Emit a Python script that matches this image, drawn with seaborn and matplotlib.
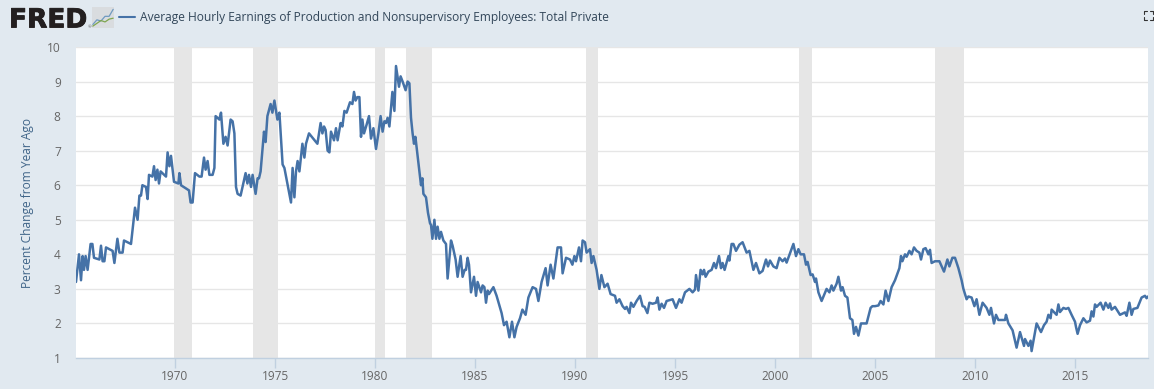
import numpy as np
import pandas as pd
import seaborn as sns
import matplotlib.pyplot as plt
import matplotlib.patheffects as pe

# values: year (decimal) and percent change from year ago
years_60s = [1965.05, 1965.2, 1965.3, 1965.38, 1965.45, 1965.53, 1965.63, 1965.78, 1965.87, 1965.95, 1966.22, 1966.3, 1966.38, 1966.47, 1966.55, 1966.88, 1966.97, 1967.12, 1967.22, 1967.38, 1967.45, 1967.8, 1968.0, 1968.13, 1968.22, 1968.3, 1968.37, 1968.55, 1968.63, 1968.7, 1968.87, 1968.95, 1969.03, 1969.12, 1969.2, 1969.28, 1969.55, 1969.63, 1969.72, 1969.8, 1969.95]
pct_60s = [3.2, 4.0, 3.25, 3.95, 3.55, 3.95, 3.55, 4.3, 4.3, 3.9, 3.85, 4.25, 3.8, 3.8, 4.2, 4.1, 3.75, 4.45, 4.05, 4.05, 4.4, 4.3, 5.35, 5.0, 5.7, 5.7, 6.0, 5.95, 5.6, 6.3, 6.25, 6.55, 6.15, 6.45, 6.05, 6.4, 6.25, 6.95, 6.55, 6.85, 6.1]

years_70s = [1970.17, 1970.22, 1970.3, 1970.7, 1970.78, 1970.88, 1971.0, 1971.22, 1971.33, 1971.45, 1971.53, 1971.63, 1971.72, 1971.88, 1971.97, 1972.03, 1972.22, 1972.3, 1972.42, 1972.53, 1972.63, 1972.78, 1972.88, 1972.97, 1973.05, 1973.13, 1973.28, 1973.53, 1973.62, 1973.7, 1973.8, 1973.88, 1974.03, 1974.13, 1974.2, 1974.28, 1974.45, 1974.53, 1974.62, 1974.78, 1974.87, 1974.97, 1975.12, 1975.22, 1975.38, 1975.47, 1975.62, 1975.8, 1975.88, 1975.97, 1976.05, 1976.13, 1976.22, 1976.37, 1976.47, 1976.55, 1976.7, 1977.12, 1977.28, 1977.37, 1977.45, 1977.53, 1977.63, 1977.72, 1977.8, 1977.95, 1978.05, 1978.13, 1978.28, 1978.37, 1978.47, 1978.58, 1978.75, 1978.87, 1978.95, 1979.03, 1979.12, 1979.22, 1979.3, 1979.37, 1979.45, 1979.58, 1979.7, 1979.8, 1979.92]
pct_70s = [6.05, 6.35, 6.0, 5.85, 5.5, 5.5, 6.35, 6.25, 6.25, 6.8, 6.45, 6.7, 6.3, 6.3, 6.5, 8.0, 7.9, 8.1, 7.2, 7.4, 7.15, 7.9, 7.85, 7.5, 5.95, 5.75, 5.7, 6.35, 6.05, 6.3, 5.95, 6.3, 5.75, 6.2, 6.2, 6.4, 7.55, 7.25, 8.0, 8.35, 8.1, 8.45, 7.9, 8.1, 6.6, 6.5, 6.05, 5.5, 6.5, 5.65, 6.4, 6.7, 6.4, 7.2, 6.8, 7.2, 7.5, 7.2, 7.8, 7.5, 7.7, 7.6, 7.0, 6.95, 7.55, 7.3, 7.65, 7.3, 7.8, 7.7, 8.15, 8.1, 8.4, 8.35, 8.7, 8.45, 8.55, 8.55, 7.4, 7.9, 7.5, 7.75, 8.0, 7.35, 7.65]

years_80s = [1980.05, 1980.17, 1980.28, 1980.38, 1980.47, 1980.55, 1980.63, 1980.72, 1980.87, 1980.97, 1981.05, 1981.2, 1981.28, 1981.38, 1981.53, 1981.63, 1981.72, 1981.8, 1981.88, 1981.95, 1982.02, 1982.08, 1982.22, 1982.3, 1982.37, 1982.42, 1982.55, 1982.65, 1982.75, 1982.8, 1982.87, 1982.97, 1983.05, 1983.13, 1983.22, 1983.3, 1983.42, 1983.55, 1983.63, 1983.8, 1983.88, 1984.03, 1984.13, 1984.28, 1984.38, 1984.48, 1984.55, 1984.63, 1984.7, 1984.8, 1984.95, 1985.05, 1985.13, 1985.3, 1985.38, 1985.47, 1985.55, 1985.63, 1985.7, 1985.92, 1986.08, 1986.33, 1986.45, 1986.58, 1986.72, 1986.85, 1986.97, 1987.08, 1987.25, 1987.37, 1987.53, 1987.67, 1987.88, 1988.05, 1988.17, 1988.33, 1988.53, 1988.63, 1988.78, 1988.92, 1989.13, 1989.3, 1989.38, 1989.55, 1989.75, 1989.87, 1989.97]
pct_80s = [7.05, 7.5, 8.0, 7.55, 7.85, 7.8, 7.95, 7.7, 8.7, 8.15, 9.45, 8.85, 9.15, 9.0, 8.75, 9.0, 8.95, 7.95, 7.5, 7.2, 7.4, 7.1, 6.4, 6.0, 6.2, 5.75, 5.65, 5.2, 4.9, 4.85, 4.45, 5.0, 4.45, 4.8, 4.45, 4.65, 4.4, 4.3, 3.3, 4.4, 4.25, 3.85, 3.35, 3.95, 3.35, 3.55, 3.55, 3.9, 3.7, 2.9, 3.35, 2.8, 3.2, 2.9, 3.1, 3.05, 2.6, 2.95, 2.85, 3.05, 2.8, 2.3, 1.95, 2.05, 1.6, 2.05, 1.6, 1.9, 2.15, 2.4, 2.25, 2.75, 3.05, 3.0, 2.65, 3.2, 3.6, 3.1, 3.7, 3.3, 4.2, 4.2, 3.45, 3.9, 3.85, 3.7, 3.95]

years_90s = [1990.05, 1990.2, 1990.3, 1990.38, 1990.5, 1990.58, 1990.75, 1990.83, 1990.92, 1991.08, 1991.22, 1991.32, 1991.47, 1991.63, 1991.78, 1992.0, 1992.08, 1992.22, 1992.38, 1992.5, 1992.58, 1992.72, 1992.8, 1992.92, 1993.08, 1993.25, 1993.38, 1993.48, 1993.62, 1993.72, 1993.88, 1994.05, 1994.13, 1994.22, 1994.33, 1994.45, 1994.58, 1994.88, 1995.05, 1995.22, 1995.33, 1995.5, 1995.72, 1995.88, 1996.0, 1996.05, 1996.17, 1996.28, 1996.38, 1996.45, 1996.53, 1996.67, 1996.83, 1996.95, 1997.05, 1997.2, 1997.3, 1997.38, 1997.48, 1997.67, 1997.72, 1997.83, 1997.92, 1998.05, 1998.22, 1998.38, 1998.58, 1998.72, 1998.92, 1999.05, 1999.22, 1999.38, 1999.55, 1999.65, 1999.75, 1999.92]
pct_90s = [3.8, 4.2, 3.8, 4.4, 4.35, 4.05, 4.15, 3.75, 3.95, 3.55, 3.0, 3.4, 3.05, 3.15, 2.85, 2.8, 2.6, 2.7, 2.5, 2.42, 2.48, 2.3, 2.6, 2.48, 2.65, 2.8, 2.5, 2.48, 2.3, 2.6, 2.57, 2.6, 2.75, 2.4, 2.57, 2.45, 2.65, 2.7, 2.45, 2.7, 2.6, 2.9, 3.0, 2.9, 2.98, 3.4, 2.95, 3.55, 3.42, 3.55, 3.35, 3.5, 3.55, 3.75, 3.6, 3.95, 3.6, 3.75, 3.55, 3.95, 3.82, 4.3, 4.3, 4.1, 4.28, 4.35, 4.05, 4.1, 3.55, 3.75, 3.45, 3.52, 3.85, 3.65, 3.82, 3.65]

years_00s = [2000.08, 2000.22, 2000.38, 2000.5, 2000.58, 2000.7, 2000.92, 2001.05, 2001.17, 2001.28, 2001.45, 2001.55, 2001.63, 2001.78, 2001.88, 2002.0, 2002.05, 2002.17, 2002.33, 2002.58, 2002.72, 2002.83, 2002.92, 2003.08, 2003.17, 2003.3, 2003.38, 2003.5, 2003.62, 2003.75, 2003.87, 2003.95, 2004.05, 2004.17, 2004.3, 2004.58, 2004.78, 2004.87, 2005.0, 2005.17, 2005.28, 2005.42, 2005.53, 2005.67, 2005.83, 2006.0, 2006.22, 2006.3, 2006.37, 2006.5, 2006.58, 2006.72, 2006.83, 2006.95, 2007.08, 2007.22, 2007.3, 2007.42, 2007.53, 2007.67, 2007.75, 2007.83, 2008.0, 2008.22, 2008.45, 2008.62, 2008.72, 2008.87, 2009.0, 2009.17, 2009.33, 2009.42, 2009.58, 2009.67, 2009.83, 2009.97]
pct_00s = [3.6, 3.9, 3.8, 3.88, 3.76, 3.95, 4.3, 3.95, 4.15, 4.0, 4.0, 3.7, 3.78, 3.4, 3.42, 3.2, 3.3, 2.9, 2.65, 3.0, 2.9, 3.1, 2.95, 3.15, 3.35, 2.95, 3.05, 2.8, 2.75, 2.15, 2.1, 1.7, 1.9, 1.65, 2.0, 2.0, 2.45, 2.5, 2.5, 2.52, 2.65, 2.55, 2.95, 2.65, 3.05, 3.25, 3.6, 3.95, 3.8, 4.0, 3.93, 4.1, 4.0, 4.2, 4.1, 4.05, 3.85, 4.15, 4.18, 4.0, 4.13, 3.75, 3.8, 3.8, 3.5, 3.85, 3.65, 3.9, 3.9, 3.6, 3.25, 3.0, 2.7, 2.78, 2.75, 2.5]

years_10s = [2010.08, 2010.22, 2010.38, 2010.58, 2010.72, 2010.8, 2010.95, 2011.05, 2011.17, 2011.5, 2011.55, 2011.67, 2011.88, 2012.08, 2012.25, 2012.45, 2012.5, 2012.67, 2012.78, 2012.83, 2013.08, 2013.3, 2013.45, 2013.58, 2013.67, 2013.78, 2013.83, 2014.08, 2014.17, 2014.25, 2014.42, 2014.55, 2014.67, 2014.83, 2015.0, 2015.05, 2015.13, 2015.25, 2015.42, 2015.58, 2015.75, 2015.83, 2015.92, 2016.0, 2016.08, 2016.28, 2016.42, 2016.53, 2016.67, 2016.75, 2016.83, 2017.0, 2017.25, 2017.5, 2017.58, 2017.72, 2017.83, 2017.92, 2018.12, 2018.33, 2018.5, 2018.58, 2018.65]
pct_10s = [2.7, 2.25, 2.6, 2.45, 2.25, 2.45, 2.0, 2.25, 2.1, 2.1, 2.25, 2.0, 1.8, 1.3, 1.75, 1.35, 1.55, 1.35, 1.5, 1.2, 2.0, 1.75, 1.95, 2.05, 2.25, 2.15, 2.4, 2.25, 2.55, 2.33, 2.45, 2.42, 2.45, 2.25, 2.05, 1.9, 1.7, 1.95, 2.15, 2.03, 2.08, 2.35, 2.2, 2.55, 2.48, 2.6, 2.4, 2.6, 2.45, 2.58, 2.4, 2.48, 2.25, 2.32, 2.22, 2.6, 2.25, 2.42, 2.45, 2.75, 2.8, 2.73, 2.78]

recession_start = [1969.95, 1973.9, 1980.0, 1981.55, 1990.55, 2001.2, 2008.0]
recession_end = [1970.87, 1975.17, 1980.5, 1982.87, 1991.17, 2001.87, 2009.47]

x_ticks = [1970, 1975, 1980, 1985, 1990, 1995, 2000, 2005, 2010, 2015]
y_ticks = [1, 2, 3, 4, 5, 6, 7, 8, 9, 10]

title = "Average Hourly Earnings of Production and Nonsupervisory Employees: Total Private"
y_label = "Percent Change from Year Ago"

# little chart on the FRED logo
icon_blue = [1.5, 3.5, 3, 5, 5, 8]
icon_green = [0.8, 2, 3.2, 2.6, 3.8, 4.2]

df = pd.DataFrame({
    "year": years_60s + years_70s + years_80s + years_90s + years_00s + years_10s,
    "pct": pct_60s + pct_70s + pct_80s + pct_90s + pct_00s + pct_10s,
})

BG = "#e1e9f0"
W, H = 1154, 389

sns.set_theme(style="white")
plt.rcParams["font.family"] = ["Open Sans", "DejaVu Sans"]

fig = plt.figure(figsize=(W / 100, H / 100), dpi=100, facecolor=BG)
ax = fig.add_axes([76 / W, (H - 358) / H, 1072 / W, 311 / H])

for start, end in zip(recession_start, recession_end):
    ax.axvspan(start, end, color="#e6e6e6", lw=0, zorder=1)

sns.lineplot(data=df, x="year", y="pct", estimator=None, sort=False, color="#4572a7", lw=1.8, ax=ax, zorder=3)

ax.set_xlim(1965.05, 2018.65)
ax.set_ylim(1, 10)
ax.set_xticks(x_ticks)
ax.set_yticks(y_ticks)
ax.grid(axis="y", color="#e6e6e6", lw=1)
ax.set_axisbelow(True)
ax.set_xlabel("")
ax.set_ylabel(y_label, fontsize=8.6, color="#3f6488", labelpad=9)
ax.tick_params(axis="x", length=7, width=1, color="#c0d0e0", labelsize=8.6, labelcolor="#666666", pad=2, bottom=True)
ax.tick_params(axis="y", length=0, labelsize=8.6, labelcolor="#666666", pad=11)
for side in ["top", "left", "right"]:
    ax.spines[side].set_visible(False)
ax.spines["bottom"].set_color("#c0d0e0")
ax.spines["bottom"].set_linewidth(1)

# header
logo = fig.text(9 / W, (H - 27.5) / H, "FRED", fontsize=19, fontweight="bold", family="DejaVu Sans", color="#231f20", va="baseline", ha="left")
logo.set_path_effects([pe.withStroke(linewidth=0.6, foreground="#231f20")])
fig.text(87.5 / W, (H - 28) / H, "®", fontsize=3.2, color="#555555", va="baseline", ha="left")

icon = fig.add_axes([92 / W, (H - 28) / H, 22 / W, 21 / H], facecolor="#d9dcdf")
sns.lineplot(x=range(6), y=icon_blue, color="#6f9ac0", lw=0.9, ax=icon)
sns.lineplot(x=range(6), y=icon_green, color="#7fa650", lw=0.9, ax=icon)
icon.set_xlim(-0.2, 5.2)
icon.set_ylim(0, 9)
icon.set_xticks([])
icon.set_yticks([])
for side in icon.spines:
    icon.spines[side].set_visible(False)

fig.add_artist(plt.Line2D([119 / W, 135 / W], [(H - 17) / H] * 2, color="#4572a7", lw=1.5))
fig.text(140 / W, (H - 17.5) / H, title, fontsize=8.65, color="#33475a", va="center", ha="left")

# fullscreen icon corners
fx0, fx1, fy0, fy1 = 1144 / W, 1153 / W, (H - 20) / H, (H - 11) / H
dx, dy = 3 / W, 3 / H
for cx, cy, sx, sy in [(fx0, fy0, 1, 1), (fx1, fy0, -1, 1), (fx0, fy1, 1, -1), (fx1, fy1, -1, -1)]:
    fig.add_artist(plt.Line2D([cx + sx * dx, cx, cx], [cy, cy, cy + sy * dy], color="#333333", lw=0.8))

fig.savefig("out.png", dpi=100, facecolor=BG)
